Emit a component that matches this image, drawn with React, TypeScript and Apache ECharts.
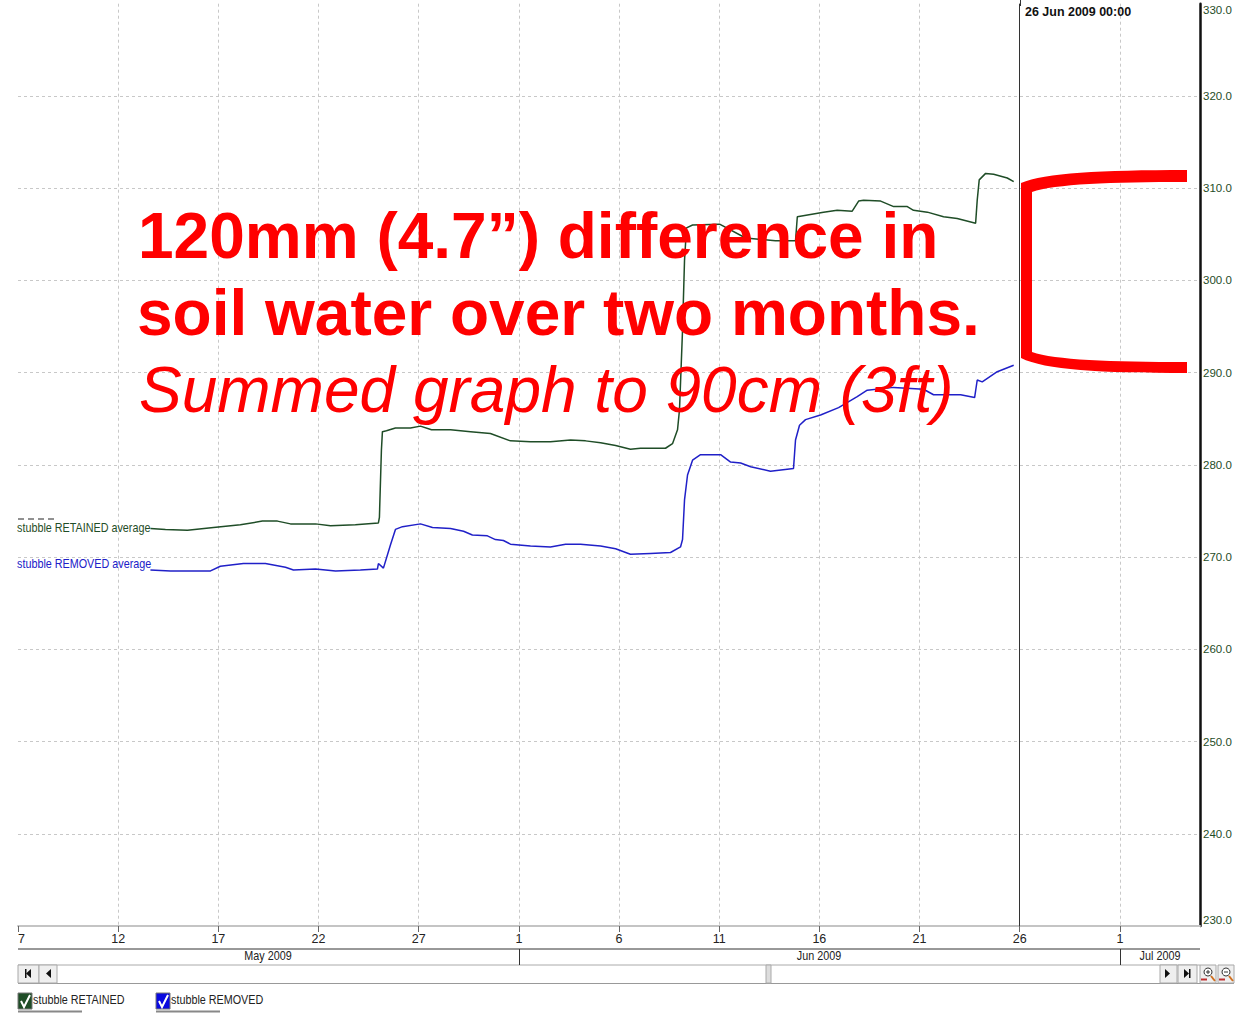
import React, { useEffect, useRef } from "react";
import * as echarts from "echarts";

// Days since 7 May 2009
const retainedDays = [6.61,7.36,8.46,9.76,11.1,12.2,12.95,13.6,14.85,15.6,16.84,17.99,18.04,18.14,18.19,18.39,18.84,19.59,20.09,20.64,21.59,22.59,23.58,24.58,25.58,26.58,27.58,28.33,29.08,29.83,30.57,31.07,32.32,32.67,32.92,33.02,33.17,33.27,33.37,33.67,35.02,36.32,37.81,38.81,38.9,40.21,40.89,41.64,41.96,42.21,43.06,43.71,44.39,44.7,45.39,46.2,46.88,47.8,47.88,47.98,48.3,48.7,49.38,49.7];
const retainedValues = [273.1,273.0,272.9,273.2,273.5,273.9,273.9,273.6,273.6,273.4,273.5,273.7,274.3,281.6,283.6,283.7,284.0,284.0,284.2,283.8,283.8,283.6,283.4,282.6,282.5,282.5,282.7,282.6,282.4,282.1,281.7,281.8,281.8,282.3,283.8,286.0,294.6,302.2,305.7,306.0,306.1,304.6,304.3,304.3,306.9,307.4,307.6,307.5,308.6,308.7,308.6,308.0,308.0,307.6,307.4,306.9,306.7,306.2,308.7,310.9,311.6,311.5,311.1,310.7];
const removedDays = [6.61,7.61,9.61,10.1,11.25,12.35,13.35,13.75,14.85,15.85,17.09,17.94,17.99,18.24,18.59,18.84,19.19,20.09,20.69,21.59,22.24,22.68,23.43,23.83,24.23,24.58,25.58,26.58,27.33,28.08,29.08,29.83,30.57,31.57,32.57,33.07,33.17,33.27,33.42,33.67,34.07,35.07,35.57,36.07,36.57,37.56,38.71,38.81,39.01,39.31,40.06,40.96,41.89,42.39,43.71,45.2,45.7,47.05,47.75,47.88,48.13,48.88,49.7];
const removedValues = [268.6,268.5,268.5,269.0,269.3,269.3,268.9,268.6,268.7,268.5,268.6,268.7,269.3,268.8,271.3,273.0,273.3,273.6,273.2,273.1,272.8,272.4,272.3,271.9,271.8,271.4,271.2,271.1,271.4,271.4,271.2,270.9,270.3,270.4,270.5,271.1,271.9,276.2,278.9,280.5,281.1,281.1,280.3,280.2,279.8,279.3,279.6,282.7,284.3,284.9,285.4,286.2,287.4,288.1,288.4,288.2,287.6,287.6,287.3,289.2,289.0,290.1,290.8];
const dayTickLabels = ["7","12","17","22","27","1","6","11","16","21","26","1"];
const monthLabels = ["May 2009", "Jun 2009", "Jul 2009"];
const cursorDay = 50;
const cursorLabel = "26 Jun 2009 00:00";
const retainedName = "stubble RETAINED";
const removedName = "stubble REMOVED";
const annotationLines = ["120mm (4.7”) difference in", "soil water over two months.", "Summed graph to 90cm (3ft)"];

const GREEN = "#1f4d27";
const BLUE = "#2020c8";
const RED = "#ff0000";
const SANS = '"Liberation Sans", sans-serif';

const bracketPath = "M1187 170 L1187 182 C1110 182 1055 184 1032 192 L1032 352 C1055 360 1110 362 1187 362 L1187 373 C1100 373 1045 370 1021 358 L1021 183 C1045 173 1100 170 1187 170 Z";
echarts.graphic.registerShape("bracket", echarts.graphic.extendPath(bracketPath, {}));

function smallText(text: string, x: number, y: number, fill: string, extra: any = {}, scaleX = 0.83) {
  return { type: "text", x, y, scaleX, z: 20, style: { text, fill, font: `13px ${SANS}`, textVerticalAlign: "middle", ...extra } };
}
function button(x: number, w: number) {
  return { type: "rect", z: 10, shape: { x, y: 965, width: w, height: 18 }, style: { fill: "#efefef", stroke: "#a8a8a8", lineWidth: 1 } };
}
function tri(pts: number[][]) {
  return { type: "polygon", z: 11, shape: { points: pts }, style: { fill: "#111" } };
}
function checkbox(x: number, fill: string) {
  return [
    { type: "rect", z: 10, shape: { x, y: 993, width: 14, height: 16 }, style: { fill, stroke: "#777", lineWidth: 1 } },
    { type: "polyline", z: 11, shape: { points: [[x + 3, 1001], [x + 6, 1007], [x + 12, 995]] }, style: { stroke: "#fff", fill: "none", lineWidth: 2 } },
    { type: "line", z: 10, shape: { x1: x, y1: 1011.5, x2: x + 64, y2: 1011.5 }, style: { stroke: "#888", lineWidth: 2 } },
  ];
}
function zoomIcon(cx: number, plus: boolean) {
  const items: any[] = [
    { type: "rect", z: 10, shape: { x: cx - 8, y: 965, width: 16, height: 18 }, style: { fill: "#efefef", stroke: "#a8a8a8", lineWidth: 1 } },
    { type: "circle", z: 11, shape: { cx, cy: 972, r: 4 }, style: { fill: "#fff", stroke: "#333", lineWidth: 1 } },
    { type: "line", z: 11, shape: { x1: cx - 2, y1: 972, x2: cx + 2, y2: 972 }, style: { stroke: "#333", lineWidth: 1 } },
    { type: "line", z: 11, shape: { x1: cx + 3, y1: 976, x2: cx + 7, y2: 981 }, style: { stroke: "#d07020", lineWidth: 2 } },
    { type: "line", z: 11, shape: { x1: cx - 7, y1: 979.5, x2: cx - 1, y2: 979.5 }, style: { stroke: "#c03030", lineWidth: 2 } },
  ];
  if (plus) items.push({ type: "line", z: 11, shape: { x1: cx, y1: 970, x2: cx, y2: 974 }, style: { stroke: "#333", lineWidth: 1 } });
  return items;
}

export default function App() {
  const ref = useRef<HTMLDivElement>(null);
  useEffect(() => {
    document.body.style.margin = "0";
    const chart = echarts.init(ref.current!, undefined, { renderer: "svg" });
    chart.setOption({
      animation: false,
      backgroundColor: "#fff",
      grid: { left: 18, top: 3.7, width: 1182, height: 922.3, containLabel: false, outerBoundsMode: "none" },
      xAxis: {
        type: "value", min: 0, max: 59, interval: 5,
        axisLine: { show: true, lineStyle: { color: "#c4c4c4", width: 2 } },
        axisTick: { show: true, length: 6, lineStyle: { color: "#666" } },
        axisLabel: {
          margin: 6, color: "#222", fontFamily: SANS, fontSize: 12.5, alignMinLabel: "left", showMaxLabel: false,
          formatter: (v: number) => dayTickLabels[v / 5] ?? "",
        },
        splitLine: { show: true, showMinLine: false, showMaxLine: false, lineStyle: { type: [3, 3], color: "#c8c8c8", width: 1 } },
      },
      yAxis: {
        type: "value", position: "right", min: 230, max: 330, interval: 10,
        axisLine: { show: true, onZero: false, lineStyle: { color: "#111", width: 2.5 } },
        axisTick: { show: false },
        axisLabel: {
          margin: 3, color: GREEN, fontFamily: SANS, fontSize: 11.5,
          verticalAlignMaxLabel: "top", verticalAlignMinLabel: "bottom",
          formatter: (v: number) => v.toFixed(1),
        },
        splitLine: { show: true, showMinLine: false, showMaxLine: false, lineStyle: { type: [3, 3], color: "#c8c8c8", width: 1 } },
      },
      series: [
        {
          name: retainedName, type: "line", showSymbol: false, symbol: "none", z: 3,
          lineStyle: { color: GREEN, width: 1.5 }, itemStyle: { color: GREEN },
          data: retainedDays.map((d, i) => [d, retainedValues[i]]),
          markLine: {
            silent: true, symbol: "none", label: { show: false }, animation: false,
            lineStyle: { color: "#333", type: "solid", width: 1 },
            data: [{ xAxis: cursorDay }],
          },
        },
        {
          name: removedName, type: "line", showSymbol: false, symbol: "none", z: 3,
          lineStyle: { color: BLUE, width: 1.5 }, itemStyle: { color: BLUE },
          data: removedDays.map((d, i) => [d, removedValues[i]]),
        },
      ],
      graphic: { elements: [
        { type: "line", z: 5, shape: { x1: 1020.5, y1: 0, x2: 1020.5, y2: 6 }, style: { stroke: "#333", lineWidth: 1 } },
        { type: "text", x: 1025, y: 11, scaleX: 0.96, z: 20, style: { text: cursorLabel, fill: "#111", font: `bold 13px ${SANS}`, textVerticalAlign: "middle" } },
        // on-chart series labels
        smallText(`${retainedName} average`, 17, 528, GREEN),
        smallText(`${removedName} average`, 17, 564, BLUE),
        { type: "line", z: 5, shape: { x1: 18, y1: 519, x2: 56, y2: 519 }, style: { stroke: "#222", lineWidth: 1, lineDash: [6, 4] } },
        // month band
        { type: "line", z: 5, shape: { x1: 18, y1: 949, x2: 1200, y2: 949 }, style: { stroke: "#333", lineWidth: 1 } },
        { type: "line", z: 5, shape: { x1: 18, y1: 965, x2: 1200, y2: 965 }, style: { stroke: "#aaa", lineWidth: 1 } },
        { type: "line", z: 5, shape: { x1: 519.5, y1: 949, x2: 519.5, y2: 965 }, style: { stroke: "#333", lineWidth: 1 } },
        { type: "line", z: 5, shape: { x1: 1120.5, y1: 949, x2: 1120.5, y2: 965 }, style: { stroke: "#333", lineWidth: 1 } },
        smallText(monthLabels[0], 268, 956, "#222", { textAlign: "center" }),
        smallText(monthLabels[1], 819, 956, "#222", { textAlign: "center" }),
        smallText(monthLabels[2], 1160, 956, "#222", { textAlign: "center" }),
        // scroll bar
        { type: "line", z: 5, shape: { x1: 18, y1: 983.5, x2: 1234, y2: 983.5 }, style: { stroke: "#999", lineWidth: 1 } },
        button(18, 21), button(39, 18), button(1160, 17), button(1178, 19),
        { type: "rect", z: 10, shape: { x: 766, y: 965, width: 5, height: 18 }, style: { fill: "#ddd", stroke: "#aaa", lineWidth: 1 } },
        tri([[31, 969], [31, 978], [26, 973.5]]),
        { type: "rect", z: 11, shape: { x: 25, y: 969, width: 1.5, height: 9 }, style: { fill: "#111" } },
        tri([[51, 969], [51, 978], [46, 973.5]]),
        tri([[1165, 969], [1165, 978], [1170, 973.5]]),
        tri([[1184, 969], [1184, 978], [1189, 973.5]]),
        { type: "rect", z: 11, shape: { x: 1189, y: 969, width: 1.5, height: 9 }, style: { fill: "#111" } },
        ...zoomIcon(1208, true),
        ...zoomIcon(1226, false),
        // legend
        ...checkbox(18, GREEN),
        smallText(retainedName, 33, 1000, "#222"),
        ...checkbox(156, "#0a0ae0"),
        smallText(removedName, 171, 1000, "#222"),
        // annotation
        { type: "text", x: 138, y: 236, z: 30, style: { text: annotationLines[0], fill: RED, font: `bold 64px ${SANS}`, textVerticalAlign: "middle" } },
        { type: "text", x: 137, y: 313, z: 30, style: { text: annotationLines[1], fill: RED, font: `bold 64px ${SANS}`, textVerticalAlign: "middle" } },
        { type: "text", x: 139, y: 390, z: 30, style: { text: annotationLines[2], fill: RED, font: `italic 64px ${SANS}`, textVerticalAlign: "middle" } },
        { type: "bracket", x: 0, y: 0, z: 30, style: { fill: RED } },
      ] },
    });
    return () => chart.dispose();
  }, []);
  return <div ref={ref} style={{ position: "absolute", left: 0, top: 0, width: 1235, height: 1015 }} />;
}
